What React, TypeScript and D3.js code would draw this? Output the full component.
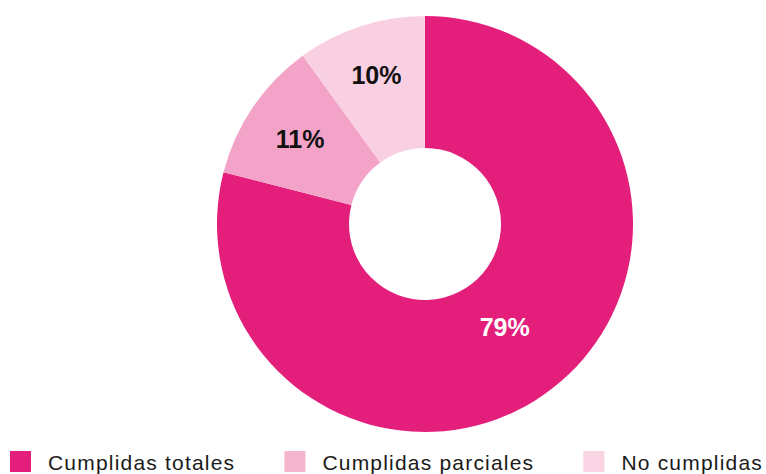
import React, { useEffect, useRef } from 'react';
import * as d3 from 'd3';

const width = 766;
const height = 474;
const cx = 425;
const cy = 224;
const outerR = 208;
const innerR = 76;

const categories = ['Cumplidas totales', 'Cumplidas parciales', 'No cumplidas'];
const values = [79, 11, 10];
const colors = ['#E41E7B', '#F4A3C8', '#F9D0E1'];
const legendColors = ['#E41E7B', '#F5B5CE', '#F9D5E3'];
const labelColors = ['#ffffff', '#111111', '#111111'];
const labelRadius = [130, 151, 157];

export default function App() {
  const ref = useRef<SVGSVGElement>(null);

  useEffect(() => {
    const svg = d3.select(ref.current);
    svg.selectAll('*').remove();

    const pie = d3.pie<number>().sort(null)(values);
    const arc = d3.arc<d3.PieArcDatum<number>>().innerRadius(innerR).outerRadius(outerR);

    const g = svg.append('g').attr('transform', 'translate(' + cx + ',' + cy + ')');
    g.selectAll('path')
      .data(pie)
      .enter()
      .append('path')
      .attr('d', arc)
      .attr('fill', (d, i) => colors[i]);

    const pos = (d: d3.PieArcDatum<number>, i: number) =>
      d3.arc<d3.PieArcDatum<number>>().innerRadius(labelRadius[i]).outerRadius(labelRadius[i]).centroid(d);

    g.selectAll('text')
      .data(pie)
      .enter()
      .append('text')
      .attr('x', (d, i) => pos(d, i)[0])
      .attr('y', (d, i) => pos(d, i)[1])
      .attr('dy', '0.36em')
      .attr('text-anchor', 'middle')
      .attr('font-family', '"Liberation Sans", Arial, sans-serif')
      .attr('font-weight', 'bold')
      .attr('font-size', 25)
      .attr('fill', (d, i) => labelColors[i])
      .text(d => d.data + '%');

    // legend, spread edge to edge
    const leg = svg.append('g');
    const items = leg.selectAll('g')
      .data(categories)
      .enter()
      .append('g');
    items.append('rect')
      .attr('width', 21)
      .attr('height', 21)
      .attr('y', 451)
      .attr('fill', (d, i) => legendColors[i]);
    items.append('text')
      .attr('x', 38)
      .attr('y', 470)
      .attr('font-family', '"Liberation Sans", Arial, sans-serif')
      .attr('font-size', 21)
      .attr('letter-spacing', 1.2)
      .attr('fill', '#1a1a1a')
      .text(d => d);

    const widths: number[] = [];
    items.each(function () {
      widths.push((this as SVGGElement).getBBox().width);
    });
    const left = 10, right = 763;
    const total = d3.sum(widths);
    const gap = (right - left - total) / (widths.length - 1);
    let x = left;
    items.attr('transform', (d, i) => {
      const t = 'translate(' + x + ',0)';
      x += widths[i] + gap;
      return t;
    });
  }, []);

  return (
    <svg ref={ref} width={width} height={height}
      style={{ position: 'absolute', left: 0, top: 0, background: '#fff' }} />
  );
}
